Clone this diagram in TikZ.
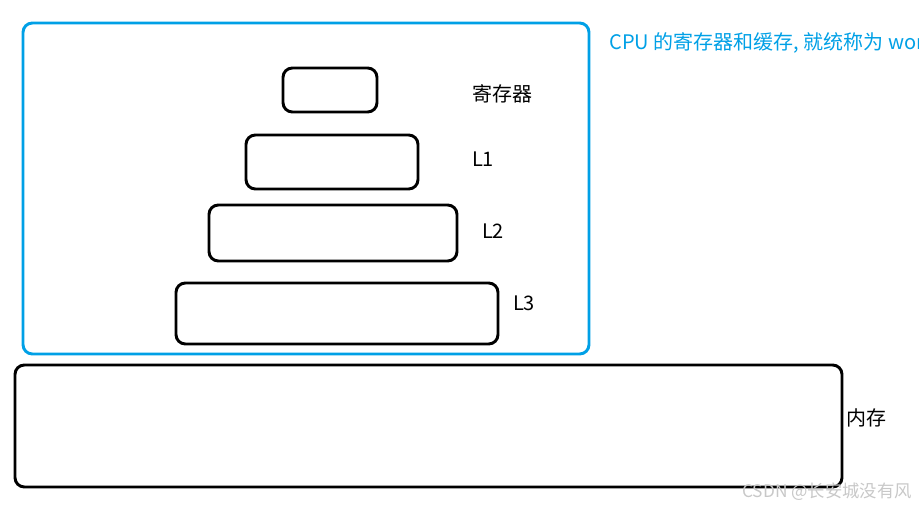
\documentclass[tikz,border=0pt]{standalone}
\usepackage{fontspec}
\newfontfamily\cjk{Noto Sans CJK SC}
\definecolor{cpublue}{RGB}{0,160,230}
\definecolor{wmgray}{RGB}{200,200,200}
\begin{document}
\begin{tikzpicture}[x=0.75pt,y=-0.75pt,
  blk/.style={draw=black,line width=2.2pt,rounded corners=7pt},
  cpubox/.style={draw=cpublue,line width=2.2pt,rounded corners=7pt},
  lbl/.style={font=\cjk\fontsize{15pt}{17pt}\selectfont,inner sep=0pt},
  bluelbl/.style={font=\cjk\fontsize{15pt}{17pt}\selectfont,text=cpublue,inner sep=0pt,anchor=west},
  wm/.style={font=\cjk\fontsize{13pt}{15pt}\selectfont,text=wmgray,inner sep=0pt,anchor=west}]
\useasboundingbox (0,0) rectangle (919,507);
\draw[cpubox] (23,23) rectangle (589,354);
\draw[blk] (283,68) rectangle (377,112);
\draw[blk] (246,135) rectangle (418,189);
\draw[blk] (209,205) rectangle (457,261);
\draw[blk] (176,283) rectangle (498,344);
\draw[blk] (15,365) rectangle (842,487);
\node[lbl] (reg) at (502,94) {寄存器};
\node[lbl] (l1) at (483,159) {L1};
\node[lbl] (l2) at (493,231) {L2};
\node[lbl] (l3) at (524,303) {L3};
\node[lbl] (mem) at (866,418) {内存};
\node[bluelbl] (note) at (609,43) {CPU 的寄存器和缓存, 就统称为 wor};
\node[wm] (wmk) at (742,492) {CSDN @长安城没有风};
\end{tikzpicture}
\end{document}
